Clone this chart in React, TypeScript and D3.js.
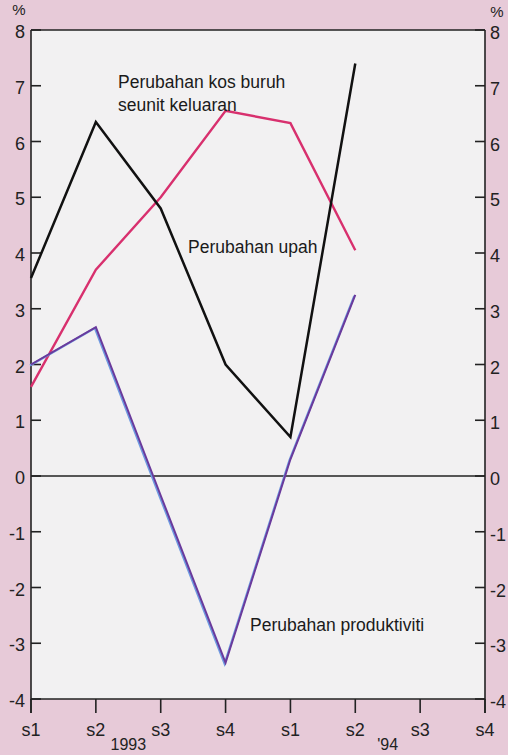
import React from "react";
import * as d3 from "d3";

// quarters, 1993 to 1994
const quarters = ["93s1", "93s2", "93s3", "93s4", "94s1", "94s2", "94s3", "94s4"];
const quarterLabels = ["s1", "s2", "s3", "s4", "s1", "s2", "s3", "s4"];
const yearLabels = [
  { text: "1993", between: ["93s2", "93s3"] },
  { text: "'94", between: ["94s2", "94s3"] },
];

// % change
const kosBuruh = [3.55, 6.35, 4.8, 2.0, 0.7, 7.4];
const upah = [1.6, 3.7, 5.0, 6.55, 6.33, 4.05];
const produktiviti = [2.0, 2.67, -0.35, -3.35, 0.3, 3.25];

const yTicks = [8, 7, 6, 5, 4, 3, 2, 1, 0, -1, -2, -3, -4];

const W = 508;
const H = 755;
const font = "'Liberation Sans', Arial, Helvetica, sans-serif";

export default function App() {
  const x = d3.scalePoint<string>().domain(quarters).range([31, 485]);
  const y = d3.scaleLinear().domain([-4, 8]).range([699, 30]);

  const line = d3
    .line<number>()
    .x((_, i) => x(quarters[i]) as number)
    .y((d) => y(d));

  const left = 31;
  const right = 485;
  const top = y(8);
  const bottom = y(-4);

  return (
    <svg
      width={W}
      height={H}
      style={{ position: "absolute", left: 0, top: 0 }}
      fontFamily={font}
    >
      <rect x={0} y={0} width={W} height={H} fill="#e7cad8" />
      <rect x={left} y={top} width={right - left} height={bottom - top} fill="#f2f1f2" />

      {/* frame */}
      <line x1={left} x2={right} y1={top} y2={top} stroke="#222" strokeWidth={1.6} />
      <line x1={left} x2={right} y1={bottom} y2={bottom} stroke="#222" strokeWidth={1.6} />
      <line x1={left} x2={left} y1={top} y2={bottom + 14} stroke="#222" strokeWidth={1.6} />
      <line x1={right} x2={right} y1={top} y2={bottom + 14} stroke="#222" strokeWidth={1.6} />
      <line x1={left} x2={right} y1={y(0)} y2={y(0)} stroke="#222" strokeWidth={1.4} />

      {/* y axes */}
      {yTicks.map((t) => (
        <g key={t}>
          <line x1={left} x2={left + 10} y1={y(t)} y2={y(t)} stroke="#222" strokeWidth={1.6} />
          <line x1={right - 10} x2={right} y1={y(t)} y2={y(t)} stroke="#222" strokeWidth={1.6} />
          <text x={25} y={y(t) + 8} fontSize={18} textAnchor="end" fill="#222">
            {t}
          </text>
          <text x={490} y={y(t) + 9} fontSize={18} textAnchor="start" fill="#222">
            {t}
          </text>
        </g>
      ))}
      <text x={19} y={15} fontSize={15} textAnchor="middle" fill="#222">%</text>
      <text x={497} y={17} fontSize={15} textAnchor="middle" fill="#222">%</text>

      {/* x axis */}
      {quarters.map((q, i) => (
        <g key={q}>
          <line
            x1={x(q)}
            x2={x(q)}
            y1={bottom}
            y2={bottom + 14}
            stroke="#222"
            strokeWidth={1.6}
          />
          <text x={x(q)} y={736} fontSize={18} textAnchor="middle" fill="#222">
            {quarterLabels[i]}
          </text>
        </g>
      ))}
      {yearLabels.map((yl) => (
        <text
          key={yl.text}
          x={((x(yl.between[0]) as number) + (x(yl.between[1]) as number)) / 2}
          y={750}
          fontSize={16}
          textAnchor="middle"
          fill="#222"
        >
          {yl.text}
        </text>
      ))}

      {/* series */}
      <path d={line(upah) || ""} fill="none" stroke="#d8306e" strokeWidth={2.4} />
      <path d={line(kosBuruh) || ""} fill="none" stroke="#111" strokeWidth={2.5} />
      <path
        d={line(produktiviti) || ""}
        fill="none"
        stroke="#6f9ae0"
        strokeWidth={2.2}
        transform="translate(-1,1)"
      />
      <path d={line(produktiviti) || ""} fill="none" stroke="#6a3a9c" strokeWidth={2} />

      {/* labels */}
      <text x={118} y={88} fontSize={17.5} fill="#1a1a1a">Perubahan kos buruh</text>
      <text x={118} y={111} fontSize={17.5} fill="#1a1a1a">seunit keluaran</text>
      <text x={188} y={253} fontSize={17.5} fill="#1a1a1a">Perubahan upah</text>
      <text x={250} y={631} fontSize={17.5} fill="#1a1a1a">Perubahan produktiviti</text>
    </svg>
  );
}
